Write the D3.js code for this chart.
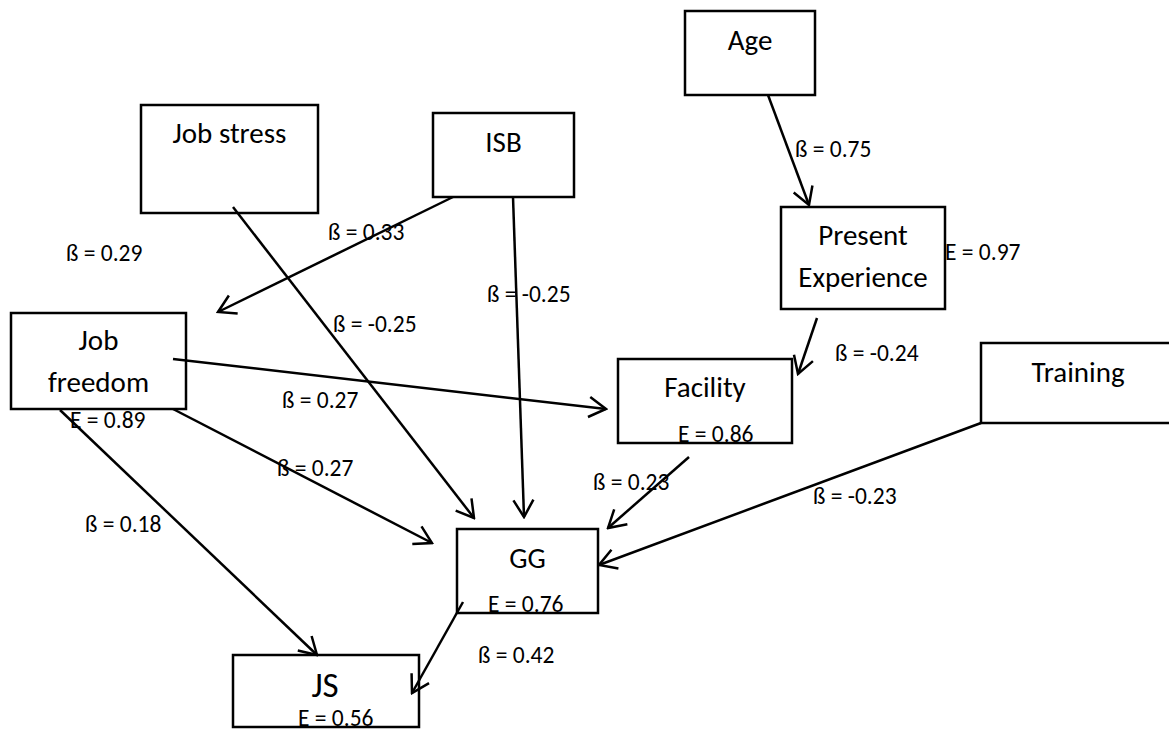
<!DOCTYPE html>
<html>
<head>
<meta charset="utf-8">
<script src="https://cdn.jsdelivr.net/npm/d3@7"></script>
<style>
  html, body { margin: 0; padding: 0; background: #fff; }
  svg { display: block; }
</style>
</head>
<body>
<div id="chart"></div>
<script>
// Variables in the path model
const nodeNames = ['Job stress', 'ISB', 'Age', 'Present Experience', 'Job freedom', 'Facility', 'Training', 'GG', 'JS'];
const nodeLines = [['Job stress'], ['ISB'], ['Age'], ['Present', 'Experience'], ['Job', 'freedom'], ['Facility'], ['Training'], ['GG'], ['JS']];

// Paths (from -> to) and standardized coefficients
const pathFrom = ['Age', 'ISB', 'Job stress', 'ISB', 'Job freedom', 'Job freedom', 'Job freedom', 'Present Experience', 'Facility', 'Training', 'GG'];
const pathTo   = ['Present Experience', 'Job freedom', 'GG', 'GG', 'Facility', 'GG', 'JS', 'Facility', 'GG', 'GG', 'JS'];
const pathBeta = [0.75, 0.33, -0.25, -0.25, 0.27, 0.27, 0.18, -0.24, 0.23, -0.23, 0.42];

// Free-standing coefficient
const extraBeta = [0.29];

// Error terms
const errorNodes  = ['Present Experience', 'Job freedom', 'Facility', 'GG', 'JS'];
const errorValues = [0.97, 0.89, 0.86, 0.76, 0.56];

// ---- layout (page coordinates of the original drawing) ----
const layout = {
  'Job stress':         { box: [141, 105, 318, 213], label: [143], size: 29 },
  'ISB':                { box: [433, 113, 574, 197], label: [152], size: 29 },
  'Age':                { box: [685, 11, 815, 95],   label: [50],  size: 29 },
  'Present Experience': { box: [781, 207, 945, 309], label: [245, 287], size: 29 },
  'Job freedom':        { box: [11, 313, 186, 409],  label: [350, 392], size: 29 },
  'Facility':           { box: [618, 359, 792, 443], label: [397], size: 29 },
  'Training':           { box: [981, 343, 1180, 423], label: [382], size: 29, cx: 1078 },
  'GG':                 { box: [457, 529, 598, 613], label: [568], size: 29 },
  'JS':                 { box: [233, 655, 419, 727], label: [697], size: 35, cx: 325 },
};
const pathGeom = [
  { p: [768, 95, 809, 205],  t: [795, 157] },
  { p: [453, 197, 218, 312], t: [328, 240] },
  { p: [233, 207, 474, 518], t: [333, 332] },
  { p: [513, 197, 524, 517], t: [487, 302] },
  { p: [173, 359, 606, 409], t: [282, 408] },
  { p: [173, 409, 432, 543], t: [277, 476] },
  { p: [60, 410, 317, 655],  t: [85, 532] },
  { p: [817, 318, 798, 374], t: [835, 361] },
  { p: [689, 457, 608, 528], t: [593, 490] },
  { p: [981, 423, 599, 565], t: [813, 504] },
  { p: [463, 602, 412, 693], t: [478, 663] },
];
const extraGeom = [[66, 261]];
const errorGeom = [[945, 260], [70, 428], [678, 442], [488, 612], [298, 726]];

const width = 1169, height = 731;
const x = d3.scaleLinear().domain([0, 1169]).range([0, width]);
const y = d3.scaleLinear().domain([0, 731]).range([0, height]);
const font = 'Carlito, Calibri, Lato, sans-serif';
const betaSize = 23.5;
const lineW = 2.5;

const svg = d3.select('#chart').append('svg')
  .attr('width', width).attr('height', height)
  .style('background', '#fff');

svg.append('defs').append('marker')
  .attr('id', 'arrow')
  .attr('viewBox', '-20 -12 22 24')
  .attr('refX', 0).attr('refY', 0)
  .attr('markerWidth', 22).attr('markerHeight', 24)
  .attr('markerUnits', 'userSpaceOnUse')
  .attr('orient', 'auto')
  .append('path')
  .attr('d', 'M-17,-10L0,0L-17,10')
  .attr('fill', 'none').attr('stroke', '#000').attr('stroke-width', lineW);

// plain hyphen for negatives, as in the original
const fmt = d3.formatLocale({ decimal: '.', thousands: ',', grouping: [3], currency: ['', ''], minus: '-' }).format('.2f');

// Boxes
const nodeG = svg.append('g').selectAll('g.node')
  .data(nodeNames.map((n, i) => ({ name: n, lines: nodeLines[i], ...layout[n] })))
  .join('g').attr('class', 'node');

nodeG.append('rect')
  .attr('x', d => x(d.box[0])).attr('y', d => y(d.box[1]))
  .attr('width', d => x(d.box[2]) - x(d.box[0]))
  .attr('height', d => y(d.box[3]) - y(d.box[1]))
  .attr('fill', '#fff').attr('stroke', '#000').attr('stroke-width', lineW);

nodeG.each(function(d) {
  const cx = d.cx != null ? d.cx : (d.box[0] + d.box[2]) / 2;
  d3.select(this).selectAll('text.lbl').data(d.lines).join('text')
    .attr('class', 'lbl')
    .attr('x', x(cx)).attr('y', (l, i) => y(d.label[i]))
    .attr('text-anchor', 'middle')
    .attr('font-family', font).attr('font-size', d.size)
    .attr('fill', '#000').text(l => l);
});

// Paths
svg.append('g').selectAll('line.path')
  .data(pathGeom)
  .join('line').attr('class', 'path')
  .attr('x1', d => x(d.p[0])).attr('y1', d => y(d.p[1]))
  .attr('x2', d => x(d.p[2])).attr('y2', d => y(d.p[3]))
  .attr('stroke', '#000').attr('stroke-width', lineW)
  .attr('marker-end', 'url(#arrow)');

// Coefficients
const betaLabels = pathBeta.map((b, i) => ({ v: b, pos: pathGeom[i].t }))
  .concat(extraBeta.map((b, i) => ({ v: b, pos: extraGeom[i] })));

svg.append('g').selectAll('text.beta')
  .data(betaLabels)
  .join('text').attr('class', 'beta')
  .attr('x', d => x(d.pos[0])).attr('y', d => y(d.pos[1]))
  .attr('font-family', font).attr('font-size', betaSize).attr('fill', '#000')
  .text(d => `ß = ${fmt(d.v)}`);

// Error terms
svg.append('g').selectAll('text.err')
  .data(errorValues.map((v, i) => ({ v, node: errorNodes[i], pos: errorGeom[i] })))
  .join('text').attr('class', 'err')
  .attr('x', d => x(d.pos[0])).attr('y', d => y(d.pos[1]))
  .attr('font-family', font).attr('font-size', betaSize).attr('fill', '#000')
  .text(d => `E = ${fmt(d.v)}`);
</script>
</body>
</html>
